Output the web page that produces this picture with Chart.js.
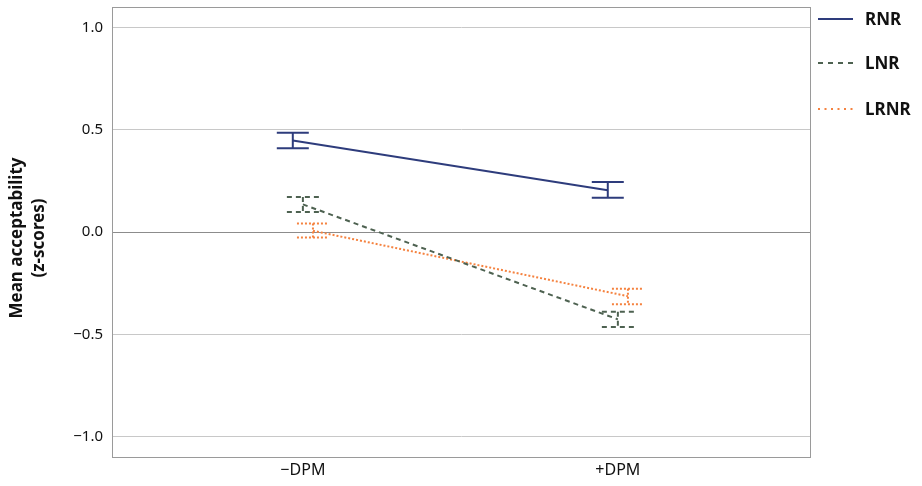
<!DOCTYPE html>
<html>
<head>
<meta charset="utf-8">
<script src="https://cdn.jsdelivr.net/npm/chart.js@4/dist/chart.umd.min.js"></script>
<style>
html,body{margin:0;padding:0;background:#fff;}
#wrap{width:922px;height:486px;position:relative;}
</style>
</head>
<body>
<div id="wrap"><canvas id="c" width="922" height="486"></canvas></div>
<script>
// ---- data ----
const categories = ['\u2212DPM', '+DPM'];
const seriesNames = ['RNR', 'LNR', 'LRNR'];
const rnrMean  = [0.447, 0.204];
const rnrLower = [0.410, 0.168];
const rnrUpper = [0.485, 0.244];
const lnrMean  = [0.135, -0.427];
const lnrLower = [0.098, -0.464];
const lnrUpper = [0.171, -0.390];
const lrnrMean  = [0.006, -0.314];
const lrnrLower = [-0.027, -0.353];
const lrnrUpper = [0.041, -0.277];
const yTicks = [-1.0, -0.5, 0.0, 0.5, 1.0];
const yTickLabels = ['\u22121.0', '\u22120.5', '0.0', '0.5', '1.0'];

// ---- styles ----
const FONT = '"Noto Sans", "Open Sans", sans-serif';
const styles = [
  {color:'#2e3c7c', dash:[], legendDash:[]},
  {color:'#4e6251', dash:[5,4], legendDash:[5,5]},
  {color:'#f5823f', dash:[2,2], legendDash:[2,4.5]}
];
const dodge = [-0.032, 0, 0.032];
const means = [rnrMean, lnrMean, lrnrMean];
const lowers = [rnrLower, lnrLower, lrnrLower];
const uppers = [rnrUpper, lnrUpper, lrnrUpper];

const datasets = seriesNames.map((name, s) => ({
  label: name,
  data: categories.map((c, i) => ({x: i + dodge[s], y: means[s][i]})),
  showLine: true,
  borderColor: styles[s].color,
  backgroundColor: styles[s].color,
  borderWidth: 2,
  borderDash: styles[s].dash,
  pointRadius: 0,
  pointHoverRadius: 0,
  lowers: lowers[s],
  uppers: uppers[s]
}));

const errorBars = {
  id: 'errorBars',
  afterDatasetsDraw(chart) {
    const ctx = chart.ctx;
    const xs = chart.scales.x, ys = chart.scales.y;
    chart.data.datasets.forEach((ds, s) => {
      ctx.save();
      ctx.strokeStyle = ds.borderColor;
      ctx.lineWidth = 2;
      ctx.setLineDash(ds.borderDash);
      ds.data.forEach((p, i) => {
        const px = xs.getPixelForValue(p.x);
        const yl = ys.getPixelForValue(ds.lowers[i]);
        const yu = ys.getPixelForValue(ds.uppers[i]);
        const hw = 16;
        ctx.beginPath();
        ctx.moveTo(px, yu); ctx.lineTo(px, yl);
        ctx.moveTo(px - hw, yu); ctx.lineTo(px + hw, yu);
        ctx.moveTo(px - hw, yl); ctx.lineTo(px + hw, yl);
        ctx.stroke();
      });
      ctx.restore();
    });
  }
};

const frameAndText = {
  id: 'frameAndText',
  beforeDatasetsDraw(chart) {
    const ctx = chart.ctx, a = chart.chartArea;
    const ys = chart.scales.y;
    ctx.save();
    const y0 = Math.round(ys.getPixelForValue(0)) + 0.5;
    ctx.strokeStyle = '#8c8c8c';
    ctx.lineWidth = 1;
    ctx.beginPath(); ctx.moveTo(a.left, y0); ctx.lineTo(a.right, y0); ctx.stroke();
    ctx.restore();
  },
  afterDraw(chart) {
    const ctx = chart.ctx, a = chart.chartArea;
    ctx.save();
    ctx.strokeStyle = '#9a9a9a';
    ctx.lineWidth = 1;
    ctx.strokeRect(Math.round(a.left) + 0.5, Math.round(a.top) + 0.5,
                   Math.round(a.right - a.left), Math.round(a.bottom - a.top));
    // y title
    ctx.fillStyle = '#111';
    ctx.font = 'bold 17px ' + FONT;
    ctx.textAlign = 'center';
    ctx.textBaseline = 'middle';
    const cy = (a.top + a.bottom) / 2 + 6;
    ctx.translate(17, cy);
    ctx.rotate(-Math.PI / 2);
    ctx.fillText('Mean acceptability', 0, 0);
    ctx.fillText('(z-scores)', 0, 22);
    ctx.restore();
    // legend
    ctx.save();
    const ly = [19, 63, 109];
    chart.data.datasets.forEach((ds, s) => {
      ctx.strokeStyle = ds.borderColor;
      ctx.lineWidth = 2;
      ctx.setLineDash(styles[s].legendDash);
      ctx.beginPath(); ctx.moveTo(818, ly[s]); ctx.lineTo(853, ly[s]); ctx.stroke();
      ctx.setLineDash([]);
      ctx.fillStyle = '#111';
      ctx.font = 'bold 17px ' + FONT;
      ctx.textAlign = 'left';
      ctx.textBaseline = 'middle';
      ctx.fillText(ds.label, 865, ly[s] + 1);
    });
    ctx.restore();
  }
};

new Chart(document.getElementById('c'), {
  type: 'scatter',
  data: {datasets},
  options: {
    responsive: false,
    animation: false,
    devicePixelRatio: 1,
    layout: {padding: {left: 0, right: 112, top: 7, bottom: 0}},
    plugins: {legend: {display: false}, tooltip: {enabled: false}},
    scales: {
      x: {
        type: 'linear',
        min: -0.606, max: 1.61,
        afterBuildTicks(scale) { scale.ticks = categories.map((c, i) => ({value: i})); },
        afterFit(scale) { scale.height = 29; scale.paddingLeft = 0; scale.paddingRight = 0; },
        grid: {display: false, drawTicks: false},
        border: {display: true, color: '#9a9a9a'},
        ticks: {
          callback: (v) => categories[v],
          color: '#111',
          font: {family: FONT, size: 16},
          padding: 4,
          maxRotation: 0
        }
      },
      y: {
        min: -1.1, max: 1.1,
        afterBuildTicks(scale) { scale.ticks = yTicks.map(v => ({value: v})); },
        afterFit(scale) { scale.width = 112; scale.paddingTop = 0; scale.paddingBottom = 0; },
        grid: {color: '#c8c8c8', lineWidth: 1, drawTicks: false},
        border: {display: true, color: '#9a9a9a'},
        ticks: {
          callback: (v) => { const k = yTicks.findIndex(t => Math.abs(t - v) < 1e-9); return k >= 0 ? yTickLabels[k] : ''; },
          color: '#111',
          font: {family: FONT, size: 15},
          padding: 9
        }
      }
    }
  },
  plugins: [frameAndText, errorBars]
});
</script>
</body>
</html>
